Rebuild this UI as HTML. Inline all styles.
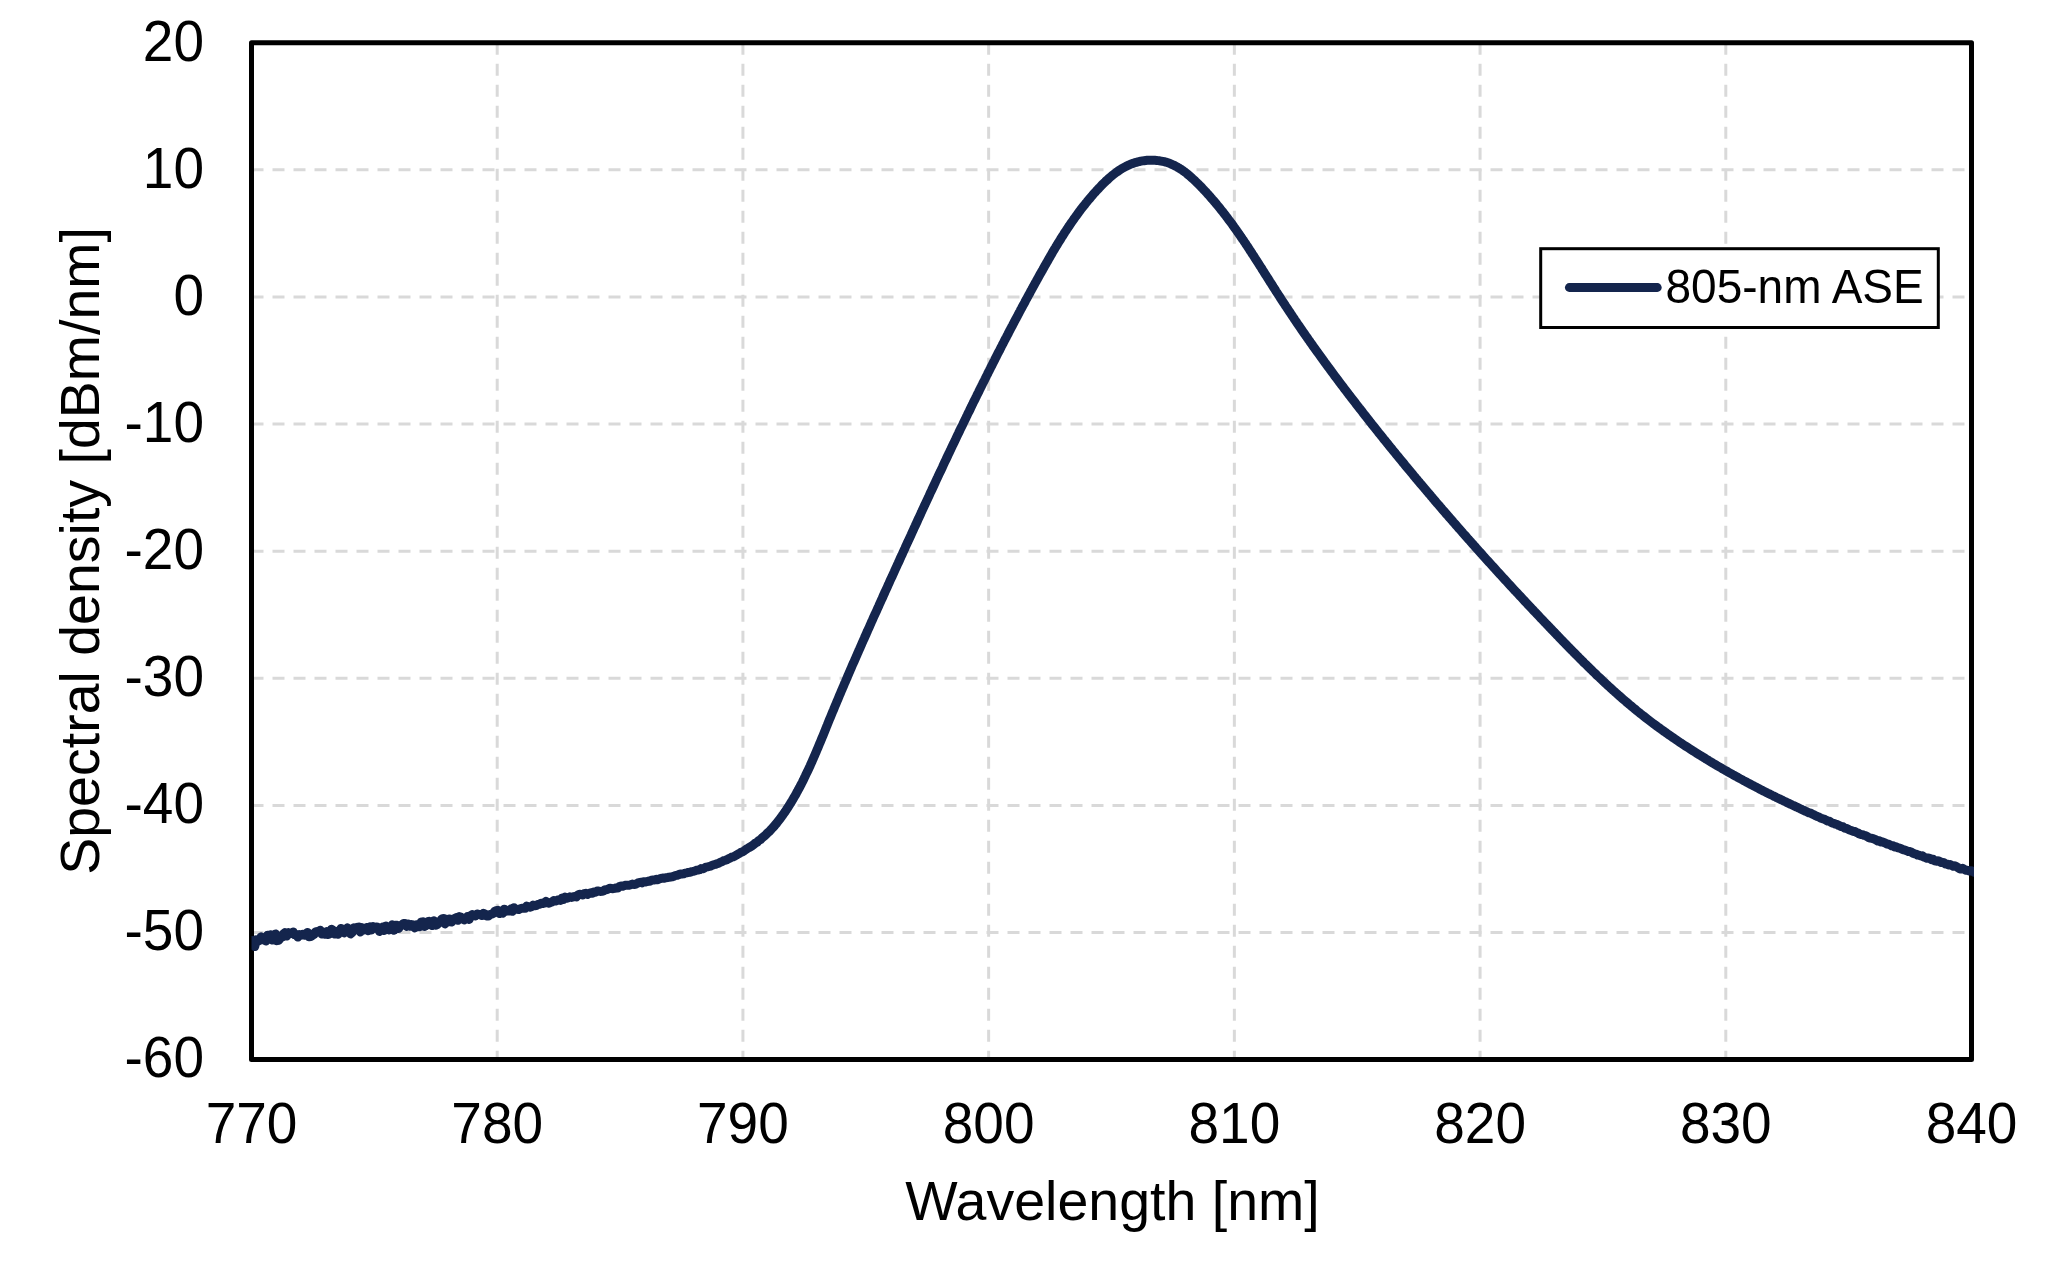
<!DOCTYPE html>
<html><head><meta charset="utf-8"><title>805-nm ASE spectrum</title>
<style>html,body{margin:0;padding:0;background:#fff;}svg{display:block;}</style>
</head><body><svg width="2053" height="1276" viewBox="0 0 2053 1276" font-family="Liberation Sans, Arial, sans-serif" fill="#000"><rect x="0" y="0" width="2053" height="1276" fill="#fff"/><g stroke="#d9d9d9" stroke-width="3" stroke-dasharray="12 9"><line x1="497.21" y1="42.75" x2="497.21" y2="1059.6"/><line x1="742.93" y1="42.75" x2="742.93" y2="1059.6"/><line x1="988.64" y1="42.75" x2="988.64" y2="1059.6"/><line x1="1234.36" y1="42.75" x2="1234.36" y2="1059.6"/><line x1="1480.07" y1="42.75" x2="1480.07" y2="1059.6"/><line x1="1725.79" y1="42.75" x2="1725.79" y2="1059.6"/><line x1="251.5" y1="169.86" x2="1971.5" y2="169.86"/><line x1="251.5" y1="296.96" x2="1971.5" y2="296.96"/><line x1="251.5" y1="424.07" x2="1971.5" y2="424.07"/><line x1="251.5" y1="551.17" x2="1971.5" y2="551.17"/><line x1="251.5" y1="678.28" x2="1971.5" y2="678.28"/><line x1="251.5" y1="805.39" x2="1971.5" y2="805.39"/><line x1="251.5" y1="932.49" x2="1971.5" y2="932.49"/></g><rect x="251.5" y="42.75" width="1720.0" height="1016.8499999999999" fill="none" stroke="#000" stroke-width="5" stroke-linejoin="round"/><rect x="1540.7" y="248.7" width="397.6" height="78.8" fill="#fff" stroke="#000" stroke-width="3"/><line x1="1569.3" y1="287.5" x2="1657.3" y2="287.5" stroke="#14254d" stroke-width="8.8" stroke-linecap="round"/><text transform="translate(1665.5,303.3) scale(1,1.03)" font-size="46" style="filter:opacity(1)">805-nm ASE</text><clipPath id="c"><rect x="251.5" y="0" width="1722.5" height="1276"/></clipPath><path d="M251.5,940.4 L253.1,941.7 L254.7,946.6 L256.3,939.8 L257.9,940.1 L259.5,940.6 L261.1,936.8 L262.7,939.3 L264.3,940.0 L265.9,941.0 L267.5,935.2 L269.1,936.7 L270.7,934.8 L272.3,940.1 L273.9,939.0 L275.5,933.9 L277.1,940.6 L278.7,940.3 L280.3,937.8 L281.9,937.3 L283.5,933.8 L285.1,932.6 L286.7,936.1 L288.3,932.6 L289.9,933.4 L291.5,933.6 L293.1,931.9 L294.7,934.8 L296.3,934.5 L297.9,937.1 L299.5,934.7 L301.1,935.3 L302.7,934.2 L304.3,935.2 L305.9,933.7 L307.5,932.4 L309.1,936.8 L310.7,936.6 L312.3,935.5 L313.9,934.5 L315.5,932.0 L317.1,931.4 L318.7,931.6 L320.3,930.3 L321.9,934.1 L323.5,931.9 L325.1,934.3 L326.7,931.6 L328.3,934.6 L329.9,933.8 L331.5,929.2 L333.1,930.2 L334.7,934.0 L336.3,931.4 L337.9,934.3 L339.5,930.7 L341.1,928.5 L342.7,932.0 L344.3,932.9 L345.9,929.3 L347.5,927.9 L349.1,929.5 L350.7,933.9 L352.3,932.3 L353.9,927.7 L355.5,928.5 L357.1,927.4 L358.7,927.0 L360.3,931.9 L361.9,927.6 L363.5,930.1 L365.1,929.2 L366.7,927.4 L368.3,930.8 L369.9,926.8 L371.5,930.0 L373.1,926.5 L374.7,928.3 L376.3,926.9 L377.9,927.1 L379.5,931.5 L381.1,930.3 L382.7,926.9 L384.3,930.5 L385.9,926.1 L387.5,927.1 L389.1,929.9 L390.7,928.4 L392.3,924.8 L393.9,930.3 L395.5,925.2 L397.1,925.3 L398.7,928.5 L400.3,925.5 L401.9,925.1 L403.5,923.5 L405.1,923.4 L406.7,926.4 L408.3,924.1 L409.9,926.2 L411.5,924.5 L413.1,924.9 L414.7,927.9 L416.3,924.7 L417.9,925.1 L419.5,926.8 L421.1,922.2 L422.7,921.8 L424.3,926.5 L425.9,925.7 L427.5,921.8 L429.1,921.3 L430.7,924.6 L432.3,925.6 L433.9,920.7 L435.5,925.3 L437.1,924.6 L438.7,922.6 L440.3,921.2 L441.9,919.0 L443.5,918.4 L445.1,923.9 L446.7,919.2 L448.3,921.8 L449.9,918.9 L451.5,922.0 L453.1,920.4 L454.7,918.5 L456.3,917.6 L457.9,920.3 L459.5,916.6 L461.1,917.2 L462.7,918.7 L464.3,919.9 L465.9,918.5 L467.5,916.5 L469.1,919.4 L470.7,915.7 L472.3,914.5 L473.9,915.5 L475.5,916.0 L477.1,914.0 L478.7,914.3 L480.3,914.9 L481.9,915.5 L483.5,913.3 L485.1,914.0 L486.7,916.0 L488.3,916.1 L489.9,914.4 L491.5,914.3 L493.1,913.5 L494.7,911.4 L496.3,910.7 L497.9,910.3 L499.5,913.6 L501.1,912.5 L502.7,913.2 L504.3,909.2 L505.9,911.3 L507.5,910.4 L509.1,911.0 L510.7,909.1 L512.3,911.3 L513.9,907.7 L515.5,909.0 L517.1,909.4 L518.7,909.6 L520.3,908.7 L521.9,908.2 L523.5,908.2 L525.1,908.3 L526.7,906.1 L528.3,906.8 L529.9,907.2 L531.5,906.7 L533.1,905.0 L534.7,905.8 L536.3,905.6 L537.9,904.5 L539.5,904.3 L541.1,903.2 L542.7,903.5 L544.3,903.2 L545.9,901.4 L547.5,902.6 L549.1,903.2 L550.7,902.5 L552.3,901.8 L553.9,900.5 L555.5,901.1 L557.1,900.4 L558.7,899.7 L560.3,900.3 L561.9,898.1 L563.5,899.4 L565.1,897.3 L566.7,898.3 L568.3,897.7 L569.9,896.8 L571.5,897.5 L573.1,896.7 L574.7,896.6 L576.3,896.9 L577.9,895.1 L579.5,894.3 L581.1,894.5 L582.7,895.0 L584.3,893.7 L585.9,893.3 L587.5,894.4 L589.1,893.6 L590.7,892.8 L592.3,893.3 L593.9,891.9 L595.5,892.2 L597.1,891.0 L598.7,891.1 L600.3,891.4 L601.9,891.3 L603.5,890.9 L605.1,889.7 L606.7,889.7 L608.3,888.9 L609.9,888.3 L611.5,888.5 L613.1,888.7 L614.7,888.4 L616.3,887.9 L617.9,887.9 L619.5,886.6 L621.1,886.1 L622.7,886.2 L624.3,885.6 L625.9,885.2 L627.5,885.2 L629.1,885.2 L630.7,884.7 L632.3,884.1 L633.9,884.5 L635.5,884.3 L637.1,883.4 L638.7,882.6 L640.3,882.3 L641.9,882.9 L643.5,881.7 L645.1,882.1 L646.7,881.7 L648.3,881.1 L649.9,881.3 L651.5,880.2 L653.1,880.0 L654.7,880.0 L656.3,879.2 L657.9,879.7 L659.5,878.8 L661.1,878.4 L662.7,878.0 L664.3,878.2 L665.9,877.7 L667.5,877.5 L669.1,877.2 L670.7,877.0 L672.3,876.8 L673.9,876.2 L675.5,875.4 L677.1,875.3 L678.7,874.6 L680.3,874.1 L681.9,874.1 L683.5,873.9 L685.1,873.1 L686.7,872.8 L688.3,872.4 L689.9,872.3 L691.5,871.7 L693.1,871.4 L694.7,871.0 L696.3,870.3 L697.9,870.1 L699.5,869.7 L701.1,868.6 L702.7,868.8 L704.3,868.1 L705.9,867.2 L707.5,866.9 L709.1,866.5 L710.7,866.1 L712.3,865.2 L713.9,864.7 L715.5,864.4 L717.1,863.7 L718.7,863.2 L720.3,862.2 L721.9,861.7 L723.5,860.7 L725.1,860.4 L726.7,859.8 L728.3,858.9 L729.9,858.2 L731.5,857.2 L733.1,856.8 L734.7,856.1 L736.3,855.2 L737.9,854.1 L739.5,853.4 L741.1,852.3 L742.7,851.7 L744.3,850.7 L745.9,849.5 L747.5,848.4 L749.1,847.6 L750.7,846.6 L752.3,845.6 L753.9,844.4 L755.5,843.0 L757.1,842.2 L758.7,840.6 L760.3,839.7 L761.9,838.1 L763.5,836.8 L765.1,835.5 L766.7,833.8 L768.3,832.2 L769.9,830.9 L770.0,830.6 L771.1,829.5 L772.2,828.3 L773.3,827.1 L774.4,825.9 L775.4,824.6 L776.5,823.4 L777.5,822.1 L778.5,820.8 L779.5,819.5 L780.5,818.2 L781.4,816.9 L782.4,815.6 L783.3,814.3 L784.3,812.9 L785.2,811.6 L786.1,810.2 L787.0,808.9 L787.9,807.5 L788.8,806.1 L789.6,804.7 L790.5,803.4 L791.3,802.0 L792.2,800.6 L793.0,799.2 L793.8,797.8 L794.7,796.3 L795.5,794.9 L796.3,793.5 L797.0,792.1 L797.8,790.7 L798.6,789.2 L799.4,787.8 L800.1,786.4 L800.9,784.9 L801.6,783.5 L802.4,782.0 L803.1,780.6 L803.8,779.1 L804.5,777.6 L805.2,776.2 L805.9,774.7 L806.6,773.2 L807.3,771.8 L808.0,770.3 L808.7,768.8 L809.4,767.3 L810.1,765.9 L810.7,764.4 L811.4,762.9 L812.1,761.4 L812.7,759.9 L813.4,758.4 L814.0,756.9 L814.7,755.4 L815.3,753.9 L816.0,752.4 L816.6,750.9 L817.2,749.4 L817.9,747.9 L818.5,746.4 L819.1,744.9 L819.7,743.4 L820.4,741.9 L821.0,740.4 L821.6,738.8 L822.2,737.3 L822.9,735.8 L823.5,734.3 L824.1,732.8 L824.7,731.3 L825.3,729.8 L825.9,728.3 L826.5,726.8 L827.2,725.2 L827.8,723.7 L828.4,722.2 L829.0,720.7 L829.6,719.2 L830.3,717.7 L830.9,716.2 L831.5,714.7 L832.1,713.2 L832.7,711.7 L833.4,710.2 L834.0,708.6 L834.6,707.1 L835.2,705.6 L835.9,704.1 L836.5,702.6 L837.1,701.1 L837.8,699.6 L838.4,698.1 L839.0,696.6 L839.6,695.1 L840.3,693.6 L840.9,692.1 L841.5,690.6 L842.2,689.1 L842.8,687.6 L843.5,686.1 L844.1,684.6 L844.7,683.1 L845.4,681.7 L846.0,680.2 L846.7,678.7 L847.3,677.2 L847.9,675.7 L848.6,674.2 L849.2,672.7 L849.9,671.2 L850.5,669.7 L851.2,668.2 L851.8,666.7 L852.4,665.2 L853.1,663.7 L853.7,662.3 L854.4,660.8 L855.0,659.3 L855.7,657.8 L856.3,656.3 L857.0,654.8 L857.6,653.3 L858.3,651.8 L858.9,650.3 L859.6,648.9 L860.3,647.4 L860.9,645.9 L861.6,644.4 L862.2,642.9 L862.9,641.4 L863.5,639.9 L864.2,638.5 L864.8,637.0 L865.5,635.5 L866.2,634.0 L866.8,632.5 L867.5,631.0 L868.1,629.6 L868.8,628.1 L869.5,626.6 L870.1,625.1 L870.8,623.6 L871.4,622.1 L872.1,620.7 L872.8,619.2 L873.4,617.7 L874.1,616.2 L874.8,614.7 L875.4,613.3 L876.1,611.8 L876.8,610.3 L877.4,608.8 L878.1,607.3 L878.8,605.9 L879.4,604.4 L880.1,602.9 L880.8,601.4 L881.4,599.9 L882.1,598.5 L882.8,597.0 L883.4,595.5 L884.1,594.0 L884.8,592.5 L885.4,591.1 L886.1,589.6 L886.8,588.1 L887.5,586.6 L888.1,585.1 L888.8,583.7 L889.5,582.2 L890.1,580.7 L890.8,579.2 L891.5,577.7 L892.2,576.3 L892.8,574.8 L893.5,573.3 L894.2,571.8 L894.8,570.4 L895.5,568.9 L896.2,567.4 L896.9,565.9 L897.5,564.4 L898.2,563.0 L898.9,561.5 L899.6,560.0 L900.2,558.5 L900.9,557.0 L901.6,555.6 L902.3,554.1 L902.9,552.6 L903.6,551.1 L904.3,549.6 L905.0,548.2 L905.6,546.7 L906.3,545.2 L907.0,543.7 L907.7,542.2 L908.3,540.8 L909.0,539.3 L909.7,537.8 L910.4,536.3 L911.1,534.8 L911.7,533.4 L912.4,531.9 L913.1,530.4 L913.8,528.9 L914.4,527.4 L915.1,526.0 L915.8,524.5 L916.5,523.0 L917.2,521.5 L917.8,520.0 L918.5,518.6 L919.2,517.1 L919.9,515.6 L920.6,514.1 L921.2,512.6 L921.9,511.2 L922.6,509.7 L923.3,508.2 L924.0,506.7 L924.7,505.2 L925.3,503.8 L926.0,502.3 L926.7,500.8 L927.4,499.3 L928.1,497.8 L928.8,496.4 L929.5,494.9 L930.1,493.4 L930.8,491.9 L931.5,490.5 L932.2,489.0 L932.9,487.5 L933.6,486.0 L934.3,484.5 L935.0,483.1 L935.6,481.6 L936.3,480.1 L937.0,478.6 L937.7,477.2 L938.4,475.7 L939.1,474.2 L939.8,472.7 L940.5,471.3 L941.2,469.8 L941.9,468.3 L942.6,466.8 L943.2,465.4 L943.9,463.9 L944.6,462.4 L945.3,460.9 L946.0,459.5 L946.7,458.0 L947.4,456.5 L948.1,455.0 L948.8,453.6 L949.5,452.1 L950.2,450.6 L950.9,449.2 L951.6,447.7 L952.3,446.2 L953.0,444.7 L953.7,443.3 L954.4,441.8 L955.1,440.3 L955.8,438.9 L956.5,437.4 L957.2,435.9 L957.9,434.4 L958.6,433.0 L959.3,431.5 L960.0,430.0 L960.7,428.6 L961.4,427.1 L962.2,425.6 L962.9,424.2 L963.6,422.7 L964.3,421.2 L965.0,419.8 L965.7,418.3 L966.4,416.8 L967.1,415.4 L967.8,413.9 L968.5,412.4 L969.3,411.0 L970.0,409.5 L970.7,408.0 L971.4,406.6 L972.1,405.1 L972.8,403.7 L973.5,402.2 L974.3,400.7 L975.0,399.3 L975.7,397.8 L976.4,396.4 L977.1,394.9 L977.9,393.4 L978.6,392.0 L979.3,390.5 L980.0,389.1 L980.7,387.6 L981.5,386.1 L982.2,384.7 L982.9,383.2 L983.6,381.8 L984.4,380.3 L985.1,378.9 L985.8,377.4 L986.5,376.0 L987.3,374.5 L988.0,373.0 L988.7,371.6 L989.5,370.1 L990.2,368.7 L990.9,367.2 L991.7,365.8 L992.4,364.3 L993.1,362.9 L993.9,361.4 L994.6,360.0 L995.3,358.5 L996.1,357.1 L996.8,355.6 L997.5,354.2 L998.3,352.7 L999.0,351.3 L999.8,349.9 L1000.5,348.4 L1001.2,347.0 L1002.0,345.5 L1002.7,344.1 L1003.5,342.6 L1004.2,341.2 L1005.0,339.7 L1005.7,338.3 L1006.5,336.9 L1007.2,335.4 L1008.0,334.0 L1008.7,332.5 L1009.5,331.1 L1010.2,329.7 L1011.0,328.2 L1011.7,326.8 L1012.5,325.4 L1013.2,323.9 L1014.0,322.5 L1014.7,321.1 L1015.5,319.6 L1016.3,318.2 L1017.0,316.8 L1017.8,315.3 L1018.5,313.9 L1019.3,312.5 L1020.1,311.0 L1020.8,309.6 L1021.6,308.2 L1022.4,306.7 L1023.1,305.3 L1023.9,303.9 L1024.7,302.5 L1025.4,301.0 L1026.2,299.6 L1027.0,298.2 L1027.7,296.8 L1028.5,295.3 L1029.3,293.9 L1030.1,292.5 L1030.8,291.1 L1031.6,289.7 L1032.4,288.2 L1033.2,286.8 L1033.9,285.4 L1034.7,284.0 L1035.5,282.6 L1036.3,281.2 L1037.1,279.7 L1037.9,278.3 L1038.6,276.9 L1039.4,275.5 L1040.2,274.1 L1041.0,272.7 L1041.8,271.3 L1042.6,269.9 L1043.4,268.4 L1044.2,267.0 L1045.0,265.6 L1045.8,264.2 L1046.6,262.8 L1047.4,261.4 L1048.2,260.0 L1049.0,258.6 L1049.8,257.2 L1050.6,255.8 L1051.4,254.4 L1052.2,253.0 L1053.0,251.6 L1053.8,250.2 L1054.7,248.8 L1055.5,247.5 L1056.3,246.1 L1057.2,244.7 L1058.0,243.3 L1058.9,241.9 L1059.7,240.6 L1060.6,239.2 L1061.4,237.8 L1062.3,236.4 L1063.2,235.1 L1064.0,233.7 L1064.9,232.3 L1065.8,231.0 L1066.7,229.6 L1067.6,228.3 L1068.5,226.9 L1069.4,225.6 L1070.3,224.2 L1071.2,222.9 L1072.2,221.5 L1073.1,220.2 L1074.0,218.9 L1075.0,217.5 L1075.9,216.2 L1076.9,214.9 L1077.9,213.6 L1078.9,212.2 L1079.8,210.9 L1080.8,209.6 L1081.8,208.3 L1082.8,207.0 L1083.9,205.7 L1084.9,204.4 L1085.9,203.1 L1087.0,201.8 L1088.0,200.5 L1089.1,199.3 L1090.2,198.0 L1091.2,196.7 L1092.3,195.5 L1093.4,194.2 L1094.5,192.9 L1095.7,191.7 L1096.8,190.4 L1097.9,189.2 L1099.1,188.0 L1100.3,186.7 L1101.4,185.5 L1102.6,184.3 L1103.8,183.1 L1105.0,182.0 L1106.2,180.8 L1107.5,179.7 L1108.7,178.5 L1110.0,177.4 L1111.2,176.4 L1112.5,175.3 L1113.8,174.3 L1115.1,173.3 L1116.4,172.3 L1117.8,171.4 L1119.1,170.4 L1120.5,169.5 L1121.8,168.7 L1123.2,167.9 L1124.6,167.1 L1126.0,166.3 L1127.5,165.6 L1128.9,165.0 L1130.4,164.3 L1131.8,163.8 L1133.3,163.2 L1134.8,162.7 L1136.3,162.3 L1137.9,161.9 L1139.4,161.5 L1140.9,161.2 L1142.5,160.9 L1144.0,160.7 L1145.6,160.5 L1147.2,160.3 L1148.7,160.2 L1150.3,160.2 L1151.8,160.2 L1153.4,160.2 L1155.0,160.3 L1156.5,160.4 L1158.1,160.6 L1159.6,160.8 L1161.1,161.1 L1162.7,161.4 L1164.2,161.7 L1165.7,162.1 L1167.2,162.6 L1168.7,163.1 L1170.1,163.6 L1171.6,164.2 L1173.0,164.9 L1174.4,165.5 L1175.8,166.3 L1177.2,167.0 L1178.6,167.8 L1179.9,168.7 L1181.3,169.5 L1182.6,170.4 L1183.9,171.4 L1185.2,172.3 L1186.5,173.3 L1187.7,174.4 L1189.0,175.4 L1190.3,176.5 L1191.5,177.6 L1192.7,178.7 L1193.9,179.8 L1195.1,180.9 L1196.3,182.1 L1197.5,183.3 L1198.7,184.4 L1199.9,185.6 L1201.0,186.8 L1202.2,188.0 L1203.3,189.2 L1204.4,190.4 L1205.6,191.6 L1206.7,192.8 L1207.8,194.1 L1208.9,195.3 L1210.0,196.5 L1211.1,197.8 L1212.1,199.0 L1213.2,200.2 L1214.3,201.5 L1215.3,202.7 L1216.4,204.0 L1217.4,205.3 L1218.5,206.5 L1219.5,207.8 L1220.5,209.1 L1221.5,210.3 L1222.6,211.6 L1223.6,212.9 L1224.6,214.2 L1225.6,215.5 L1226.5,216.8 L1227.5,218.1 L1228.5,219.4 L1229.5,220.7 L1230.5,222.0 L1231.4,223.3 L1232.4,224.6 L1233.3,225.9 L1234.3,227.3 L1235.2,228.6 L1236.2,229.9 L1237.1,231.2 L1238.0,232.6 L1239.0,233.9 L1239.9,235.2 L1240.8,236.6 L1241.7,237.9 L1242.6,239.3 L1243.6,240.6 L1244.5,242.0 L1245.4,243.3 L1246.3,244.7 L1247.2,246.0 L1248.1,247.4 L1249.0,248.7 L1249.8,250.1 L1250.7,251.4 L1251.6,252.8 L1252.5,254.2 L1253.4,255.5 L1254.3,256.9 L1255.1,258.3 L1256.0,259.6 L1256.9,261.0 L1257.8,262.4 L1258.6,263.7 L1259.5,265.1 L1260.4,266.5 L1261.3,267.8 L1262.1,269.2 L1263.0,270.6 L1263.9,272.0 L1264.7,273.3 L1265.6,274.7 L1266.5,276.1 L1267.3,277.4 L1268.2,278.8 L1269.1,280.2 L1269.9,281.6 L1270.8,282.9 L1271.7,284.3 L1272.6,285.7 L1273.4,287.1 L1274.3,288.4 L1275.2,289.8 L1276.0,291.2 L1276.9,292.5 L1277.8,293.9 L1278.7,295.3 L1279.6,296.6 L1280.4,298.0 L1281.3,299.4 L1282.2,300.7 L1283.1,302.1 L1284.0,303.4 L1284.9,304.8 L1285.8,306.2 L1286.7,307.5 L1287.6,308.9 L1288.5,310.2 L1289.4,311.6 L1290.3,312.9 L1291.2,314.3 L1292.1,315.6 L1293.0,317.0 L1293.9,318.3 L1294.8,319.7 L1295.7,321.0 L1296.6,322.4 L1297.5,323.7 L1298.5,325.1 L1299.4,326.4 L1300.3,327.7 L1301.2,329.1 L1302.1,330.4 L1303.1,331.8 L1304.0,333.1 L1304.9,334.4 L1305.8,335.8 L1306.8,337.1 L1307.7,338.4 L1308.6,339.8 L1309.6,341.1 L1310.5,342.4 L1311.5,343.7 L1312.4,345.1 L1313.3,346.4 L1314.3,347.7 L1315.2,349.1 L1316.2,350.4 L1317.1,351.7 L1318.1,353.0 L1319.0,354.3 L1320.0,355.7 L1320.9,357.0 L1321.9,358.3 L1322.8,359.6 L1323.8,360.9 L1324.7,362.2 L1325.7,363.6 L1326.7,364.9 L1327.6,366.2 L1328.6,367.5 L1329.6,368.8 L1330.5,370.1 L1331.5,371.4 L1332.5,372.7 L1333.4,374.0 L1334.4,375.4 L1335.4,376.7 L1336.4,378.0 L1337.3,379.3 L1338.3,380.6 L1339.3,381.9 L1340.3,383.2 L1341.2,384.5 L1342.2,385.8 L1343.2,387.1 L1344.2,388.4 L1345.2,389.7 L1346.2,391.0 L1347.1,392.3 L1348.1,393.6 L1349.1,394.9 L1350.1,396.1 L1351.1,397.4 L1352.1,398.7 L1353.1,400.0 L1354.1,401.3 L1355.1,402.6 L1356.1,403.9 L1357.1,405.2 L1358.1,406.5 L1359.1,407.8 L1360.1,409.0 L1361.1,410.3 L1362.1,411.6 L1363.1,412.9 L1364.1,414.2 L1365.1,415.5 L1366.1,416.7 L1367.1,418.0 L1368.1,419.3 L1369.1,420.6 L1370.1,421.9 L1371.1,423.1 L1372.1,424.4 L1373.1,425.7 L1374.2,427.0 L1375.2,428.2 L1376.2,429.5 L1377.2,430.8 L1378.2,432.1 L1379.2,433.3 L1380.3,434.6 L1381.3,435.9 L1382.3,437.1 L1383.3,438.4 L1384.3,439.7 L1385.4,440.9 L1386.4,442.2 L1387.4,443.5 L1388.4,444.7 L1389.4,446.0 L1390.5,447.3 L1391.5,448.5 L1392.5,449.8 L1393.6,451.1 L1394.6,452.3 L1395.6,453.6 L1396.6,454.8 L1397.7,456.1 L1398.7,457.4 L1399.7,458.6 L1400.8,459.9 L1401.8,461.1 L1402.8,462.4 L1403.9,463.6 L1404.9,464.9 L1405.9,466.2 L1407.0,467.4 L1408.0,468.7 L1409.0,469.9 L1410.1,471.2 L1411.1,472.4 L1412.2,473.7 L1413.2,474.9 L1414.2,476.2 L1415.3,477.4 L1416.3,478.7 L1417.4,479.9 L1418.4,481.2 L1419.5,482.4 L1420.5,483.7 L1421.6,484.9 L1422.6,486.1 L1423.7,487.4 L1424.7,488.6 L1425.8,489.9 L1426.8,491.1 L1427.9,492.4 L1428.9,493.6 L1430.0,494.8 L1431.0,496.1 L1432.1,497.3 L1433.1,498.6 L1434.2,499.8 L1435.2,501.0 L1436.3,502.3 L1437.3,503.5 L1438.4,504.7 L1439.5,506.0 L1440.5,507.2 L1441.6,508.4 L1442.6,509.7 L1443.7,510.9 L1444.8,512.1 L1445.8,513.4 L1446.9,514.6 L1448.0,515.8 L1449.0,517.0 L1450.1,518.3 L1451.2,519.5 L1452.2,520.7 L1453.3,522.0 L1454.4,523.2 L1455.4,524.4 L1456.5,525.6 L1457.6,526.9 L1458.6,528.1 L1459.7,529.3 L1460.8,530.5 L1461.9,531.7 L1462.9,533.0 L1464.0,534.2 L1465.1,535.4 L1466.2,536.6 L1467.2,537.8 L1468.3,539.1 L1469.4,540.3 L1470.5,541.5 L1471.5,542.7 L1472.6,543.9 L1473.7,545.1 L1474.8,546.4 L1475.9,547.6 L1476.9,548.8 L1478.0,550.0 L1479.1,551.2 L1480.2,552.4 L1481.3,553.6 L1482.4,554.8 L1483.5,556.1 L1484.5,557.3 L1485.6,558.5 L1486.7,559.7 L1487.8,560.9 L1488.9,562.1 L1490.0,563.3 L1491.1,564.5 L1492.2,565.7 L1493.3,566.9 L1494.4,568.1 L1495.5,569.3 L1496.5,570.5 L1497.6,571.7 L1498.7,572.9 L1499.8,574.1 L1500.9,575.3 L1502.0,576.5 L1503.1,577.7 L1504.2,578.9 L1505.3,580.1 L1506.4,581.3 L1507.5,582.5 L1508.6,583.7 L1509.7,584.9 L1510.8,586.1 L1511.9,587.3 L1513.0,588.5 L1514.1,589.7 L1515.2,590.9 L1516.4,592.1 L1517.5,593.3 L1518.6,594.5 L1519.7,595.7 L1520.8,596.8 L1521.9,598.0 L1523.0,599.2 L1524.1,600.4 L1525.2,601.6 L1526.3,602.8 L1527.4,604.0 L1528.6,605.2 L1529.7,606.4 L1530.8,607.5 L1531.9,608.7 L1533.0,609.9 L1534.1,611.1 L1535.3,612.3 L1536.4,613.5 L1537.5,614.6 L1538.6,615.8 L1539.7,617.0 L1540.8,618.2 L1542.0,619.4 L1543.1,620.5 L1544.2,621.7 L1545.3,622.9 L1546.5,624.1 L1547.6,625.3 L1548.7,626.4 L1549.8,627.6 L1550.9,628.8 L1552.1,630.0 L1553.2,631.1 L1554.3,632.3 L1555.5,633.5 L1556.6,634.7 L1557.7,635.8 L1558.8,637.0 L1560.0,638.2 L1561.1,639.4 L1562.2,640.5 L1563.4,641.7 L1564.5,642.9 L1565.6,644.0 L1566.8,645.2 L1567.9,646.4 L1569.0,647.5 L1570.2,648.7 L1571.3,649.9 L1572.5,651.0 L1573.6,652.2 L1574.7,653.3 L1575.9,654.5 L1577.0,655.6 L1578.2,656.8 L1579.3,658.0 L1580.5,659.1 L1581.6,660.3 L1582.8,661.4 L1583.9,662.6 L1585.1,663.7 L1586.3,664.8 L1587.4,666.0 L1588.6,667.1 L1589.7,668.3 L1590.9,669.4 L1592.1,670.5 L1593.2,671.7 L1594.4,672.8 L1595.6,673.9 L1596.7,675.1 L1597.9,676.2 L1599.1,677.3 L1600.3,678.4 L1601.5,679.5 L1602.6,680.6 L1603.8,681.8 L1605.0,682.9 L1606.2,684.0 L1607.4,685.1 L1608.6,686.2 L1609.8,687.3 L1611.0,688.4 L1612.2,689.5 L1613.4,690.6 L1614.6,691.6 L1615.8,692.7 L1617.0,693.8 L1618.2,694.9 L1619.5,696.0 L1620.7,697.0 L1621.9,698.1 L1623.1,699.2 L1624.4,700.2 L1625.6,701.3 L1626.8,702.4 L1628.1,703.4 L1629.3,704.5 L1630.6,705.5 L1631.8,706.5 L1633.1,707.6 L1634.3,708.6 L1635.6,709.6 L1636.8,710.7 L1638.1,711.7 L1639.4,712.7 L1640.6,713.7 L1641.9,714.7 L1643.2,715.7 L1644.5,716.8 L1645.7,717.8 L1647.0,718.7 L1648.3,719.7 L1649.6,720.7 L1650.9,721.7 L1652.2,722.7 L1653.5,723.7 L1654.8,724.6 L1656.1,725.6 L1657.4,726.6 L1658.7,727.5 L1660.1,728.5 L1661.4,729.5 L1662.7,730.4 L1664.0,731.4 L1665.4,732.3 L1666.7,733.2 L1668.0,734.2 L1669.4,735.1 L1670.7,736.0 L1672.0,737.0 L1673.4,737.9 L1674.7,738.8 L1676.1,739.7 L1677.4,740.6 L1678.8,741.6 L1680.1,742.5 L1681.5,743.4 L1682.8,744.3 L1684.2,745.2 L1685.6,746.1 L1686.9,746.9 L1688.3,747.8 L1689.7,748.7 L1691.0,749.6 L1692.4,750.5 L1693.8,751.3 L1695.2,752.2 L1696.5,753.1 L1697.9,754.0 L1699.3,754.8 L1700.7,755.7 L1702.1,756.5 L1703.5,757.4 L1704.8,758.2 L1706.2,759.1 L1707.6,759.9 L1709.0,760.8 L1710.4,761.6 L1711.8,762.5 L1713.2,763.3 L1714.6,764.1 L1716.0,765.0 L1717.4,765.8 L1718.8,766.6 L1720.2,767.4 L1721.6,768.2 L1723.0,769.1 L1724.4,769.9 L1725.9,770.7 L1727.3,771.5 L1728.7,772.3 L1730.1,773.1 L1731.5,773.9 L1732.9,774.7 L1734.4,775.5 L1735.8,776.3 L1737.2,777.0 L1738.6,777.8 L1740.0,778.6 L1741.5,779.4 L1742.9,780.2 L1744.3,780.9 L1745.8,781.7 L1747.2,782.5 L1748.6,783.2 L1750.1,784.0 L1751.5,784.8 L1752.9,785.5 L1754.4,786.3 L1755.8,787.0 L1757.3,787.8 L1758.7,788.5 L1760.1,789.3 L1761.6,790.0 L1763.0,790.8 L1764.5,791.5 L1765.9,792.2 L1767.4,793.0 L1768.8,793.7 L1770.3,794.4 L1771.7,795.1 L1773.2,795.9 L1774.7,796.6 L1776.1,797.3 L1777.6,798.0 L1779.0,798.7 L1780.5,799.4 L1782.0,800.1 L1783.4,800.8 L1784.9,801.5 L1786.4,802.2 L1787.8,802.9 L1789.3,803.6 L1790.8,804.3 L1792.2,805.0 L1793.7,805.7 L1795.2,806.4 L1796.7,807.1 L1798.1,807.8 L1799.6,808.4 L1801.1,809.2 L1802.6,809.9 L1804.0,810.5 L1805.5,811.3 L1807.0,811.8 L1808.5,812.7 L1810.0,812.9 L1811.5,813.6 L1812.9,814.4 L1814.4,815.0 L1815.9,815.9 L1817.4,816.5 L1818.9,817.0 L1820.4,817.9 L1821.9,818.4 L1823.4,818.9 L1824.9,819.5 L1826.4,820.4 L1827.9,821.1 L1829.4,821.3 L1830.9,822.3 L1832.4,823.1 L1833.9,823.4 L1835.4,824.1 L1836.9,824.4 L1838.4,825.3 L1839.9,825.9 L1841.4,826.6 L1842.9,826.8 L1844.4,828.0 L1845.9,828.3 L1847.4,828.8 L1848.9,829.7 L1850.4,830.2 L1851.9,830.7 L1853.5,831.5 L1855.0,831.6 L1856.5,832.5 L1858.0,833.0 L1859.5,834.1 L1861.0,834.6 L1862.5,834.7 L1864.1,835.4 L1865.6,835.7 L1867.1,836.5 L1868.6,837.5 L1870.1,838.1 L1871.7,838.3 L1873.2,838.7 L1874.7,839.2 L1876.2,840.1 L1877.8,841.0 L1879.3,840.8 L1880.8,842.0 L1882.3,841.8 L1883.9,842.5 L1885.4,843.1 L1886.9,844.1 L1888.5,844.3 L1890.0,844.9 L1891.5,845.7 L1893.1,845.7 L1894.6,846.9 L1896.1,846.8 L1897.7,847.8 L1899.2,848.0 L1900.7,848.5 L1902.3,849.4 L1903.8,849.8 L1905.3,850.3 L1906.9,850.9 L1908.4,851.5 L1910.0,851.6 L1911.5,852.2 L1913.0,853.2 L1914.6,853.8 L1916.1,854.1 L1917.7,855.1 L1919.2,855.3 L1920.8,856.1 L1922.3,855.8 L1923.8,857.0 L1925.4,857.6 L1926.9,858.2 L1928.5,858.0 L1930.0,858.5 L1931.6,859.8 L1933.1,859.3 L1934.7,860.9 L1936.2,861.2 L1937.8,860.7 L1939.3,861.3 L1940.9,862.5 L1942.4,862.3 L1944.0,862.6 L1945.5,864.1 L1947.1,864.0 L1948.6,865.0 L1950.2,864.5 L1951.7,865.4 L1953.3,866.3 L1954.9,865.8 L1956.4,866.5 L1958.0,867.7 L1959.5,868.6 L1961.1,869.1 L1962.6,868.3 L1964.2,869.3 L1965.7,870.2 L1967.3,870.3 L1968.9,871.0 L1970.4,870.7 L1972.0,871.0 L1973.5,871.5 L1974.0,872.2" fill="none" stroke="#14254d" stroke-width="9.0" stroke-linejoin="round" stroke-linecap="round" clip-path="url(#c)"/><text transform="translate(204.0,60.5) scale(1,1.042)" font-size="55" text-anchor="end">20</text><text transform="translate(204.0,187.6) scale(1,1.042)" font-size="55" text-anchor="end">10</text><text transform="translate(204.0,314.7) scale(1,1.042)" font-size="55" text-anchor="end">0</text><text transform="translate(204.0,441.8) scale(1,1.042)" font-size="55" text-anchor="end">-10</text><text transform="translate(204.0,568.9) scale(1,1.042)" font-size="55" text-anchor="end">-20</text><text transform="translate(204.0,696.0) scale(1,1.042)" font-size="55" text-anchor="end">-30</text><text transform="translate(204.0,823.1) scale(1,1.042)" font-size="55" text-anchor="end">-40</text><text transform="translate(204.0,950.2) scale(1,1.042)" font-size="55" text-anchor="end">-50</text><text transform="translate(204.0,1077.3) scale(1,1.042)" font-size="55" text-anchor="end">-60</text><text transform="translate(251.5,1143.2) scale(1,1.042)" font-size="55" text-anchor="middle">770</text><text transform="translate(497.2,1143.2) scale(1,1.042)" font-size="55" text-anchor="middle">780</text><text transform="translate(742.9,1143.2) scale(1,1.042)" font-size="55" text-anchor="middle">790</text><text transform="translate(988.6,1143.2) scale(1,1.042)" font-size="55" text-anchor="middle">800</text><text transform="translate(1234.4,1143.2) scale(1,1.042)" font-size="55" text-anchor="middle">810</text><text transform="translate(1480.1,1143.2) scale(1,1.042)" font-size="55" text-anchor="middle">820</text><text transform="translate(1725.8,1143.2) scale(1,1.042)" font-size="55" text-anchor="middle">830</text><text transform="translate(1971.5,1143.2) scale(1,1.042)" font-size="55" text-anchor="middle">840</text><text x="1112.5" y="1220" font-size="55.5" text-anchor="middle">Wavelength [nm]</text><text transform="translate(99.2,550.9) rotate(-90)" x="0" y="0" font-size="55.5" text-anchor="middle">Spectral density [dBm/nm]</text></svg></body></html>
